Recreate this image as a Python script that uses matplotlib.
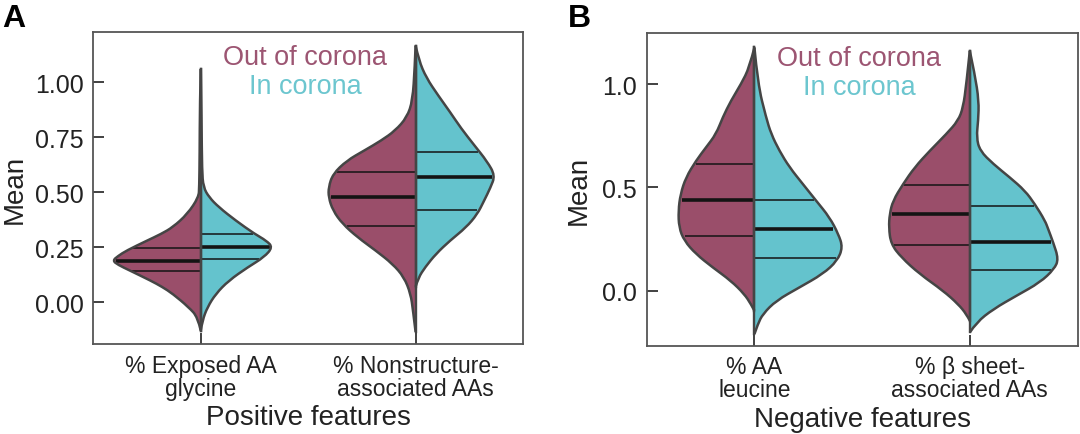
import matplotlib
matplotlib.use('Agg')
import matplotlib.pyplot as plt
from matplotlib.path import Path
from matplotlib.patches import PathPatch
import numpy as np

plt.rcParams['font.family'] = ['Liberation Sans', 'DejaVu Sans']

# violin outlines: (value, half width) from bottom to top
glycine_out = [(-0.129, 0.0), (-0.068, 0.014), (-0.023, 0.056), (0.038, 0.13), (0.07, 0.18),
               (0.098, 0.233), (0.144, 0.33), (0.17, 0.385), (0.189, 0.41), (0.21, 0.385),
               (0.235, 0.345), (0.28, 0.25), (0.31, 0.185), (0.341, 0.13), (0.401, 0.062),
               (0.477, 0.010), (0.523, 0.007), (0.674, 0.005), (0.9, 0.004), (1.06, 0.0)]
glycine_in = [(-0.129, 0.0), (-0.083, 0.008), (-0.023, 0.031), (0.038, 0.07), (0.098, 0.13),
              (0.159, 0.219), (0.205, 0.295), (0.25, 0.335), (0.28, 0.305), (0.311, 0.25),
              (0.371, 0.163), (0.432, 0.084), (0.477, 0.039), (0.523, 0.012), (0.6, 0.006),
              (0.8, 0.004), (1.06, 0.0)]
nonstruct_out = [(-0.136, 0.0), (-0.038, 0.012), (0.038, 0.023), (0.114, 0.054), (0.174, 0.107),
                 (0.235, 0.186), (0.295, 0.27), (0.356, 0.34), (0.417, 0.385), (0.477, 0.405),
                 (0.523, 0.405), (0.583, 0.385), (0.644, 0.32), (0.689, 0.24), (0.735, 0.16),
                 (0.78, 0.095), (0.841, 0.04), (0.917, 0.014), (1.068, 0.004), (1.167, 0.0)]
nonstruct_in = [(0.07, 0.0), (0.11, 0.012), (0.16, 0.045), (0.22, 0.095), (0.28, 0.16),
                (0.34, 0.235), (0.40, 0.287), (0.46, 0.318), (0.52, 0.348), (0.576, 0.37),
                (0.64, 0.333), (0.715, 0.272), (0.79, 0.212), (0.865, 0.16), (0.94, 0.105),
                (1.02, 0.05), (1.1, 0.015), (1.167, 0.0)]
leucine_out = [(-0.097, 0.0), (-0.065, 0.016), (-0.016, 0.047), (0.048, 0.109), (0.113, 0.194),
               (0.177, 0.271), (0.242, 0.326), (0.306, 0.35), (0.387, 0.353), (0.468, 0.343),
               (0.548, 0.318), (0.629, 0.271), (0.693, 0.225), (0.758, 0.178), (0.839, 0.147),
               (0.919, 0.109), (1.0, 0.062), (1.081, 0.023), (1.177, 0.0)]
leucine_in = [(-0.21, 0.0), (-0.161, 0.016), (-0.113, 0.039), (-0.048, 0.101), (0.016, 0.209),
              (0.081, 0.318), (0.145, 0.385), (0.21, 0.41), (0.274, 0.39), (0.355, 0.349),
              (0.435, 0.287), (0.516, 0.225), (0.597, 0.163), (0.677, 0.116), (0.758, 0.078),
              (0.839, 0.054), (1.0, 0.016), (1.177, 0.0)]
sheet_out = [(-0.145, 0.0), (-0.113, 0.016), (-0.065, 0.054), (0.0, 0.124), (0.081, 0.233),
             (0.161, 0.318), (0.226, 0.366), (0.306, 0.376), (0.371, 0.372), (0.435, 0.357),
             (0.516, 0.31), (0.597, 0.256), (0.677, 0.186), (0.758, 0.109), (0.823, 0.054),
             (0.887, 0.031), (1.0, 0.016), (1.161, 0.0)]
sheet_in = [(-0.202, 0.0), (-0.153, 0.031), (-0.089, 0.109), (-0.024, 0.217), (0.04, 0.326),
            (0.105, 0.392), (0.153, 0.412), (0.234, 0.387), (0.298, 0.364), (0.339, 0.349),
            (0.419, 0.302), (0.484, 0.256), (0.548, 0.186), (0.613, 0.109), (0.677, 0.047),
            (0.742, 0.031), (0.823, 0.039), (0.919, 0.042), (1.048, 0.023), (1.161, 0.0)]

# quartiles (25%, median, 75%)
glycine_q_out = [0.144, 0.186, 0.245]
glycine_q_in = [0.197, 0.253, 0.311]
nonstruct_q_out = [0.348, 0.477, 0.591]
nonstruct_q_in = [0.417, 0.571, 0.682]
leucine_q_out = [0.263, 0.437, 0.613]
leucine_q_in = [0.158, 0.298, 0.44]
sheet_q_out = [0.223, 0.371, 0.511]
sheet_q_in = [0.1, 0.234, 0.411]

pos_labels = ['% Exposed AA\nglycine', '% Nonstructure-\nassociated AAs']
neg_labels = ['% AA\nleucine', '% \u03b2 sheet-\nassociated AAs']
pos_yticks = [0.0, 0.25, 0.5, 0.75, 1.0]
neg_yticks = [0.0, 0.5, 1.0]

OUT_COLOR = '#9a4e6a'
IN_COLOR = '#64c3cd'
OUT_TEXT = '#9c5572'
IN_TEXT = '#6cc6cf'
EDGE = '#454545'


def smooth_path(x, y):
    # quadratic b-spline through the read points (points act as control points)
    verts = [(x[0], y[0])]
    codes = [Path.MOVETO]
    for i in range(1, len(x) - 1):
        mx, my = (x[i] + x[i + 1]) / 2, (y[i] + y[i + 1]) / 2
        if i == len(x) - 2:
            mx, my = x[-1], y[-1]
        verts += [(x[i], y[i]), (mx, my)]
        codes += [Path.CURVE3, Path.CURVE3]
    return verts, codes


def draw_half(ax, pos, profile, quartiles, side, color):
    y = np.array([p[0] for p in profile])
    w = np.array([p[1] for p in profile])
    sign = -1 if side == 'left' else 1
    x = pos + sign * w
    verts, codes = smooth_path(x, y)
    fill = PathPatch(Path(verts + [(pos, y[0])], codes + [Path.LINETO]),
                     facecolor=color, edgecolor='none', zorder=2)
    ax.add_patch(fill)
    for k, q in enumerate(quartiles):
        half = np.interp(q, y, w) * 0.97
        ax.plot([pos, pos + sign * half], [q, q], color='#141414',
                lw=2.6 if k == 1 else 1.1, zorder=3, solid_capstyle='butt')
    ax.add_patch(PathPatch(Path(verts, codes), facecolor='none', edgecolor=EDGE,
                           lw=1.8, zorder=4, joinstyle='round'))
    ax.plot([pos, pos], [y[0], y[-1]], color=EDGE, lw=1.7, zorder=4)


def style_axes(ax, labels, yticks, fmt, xlabel, ylab_x):
    ax.set_xlim(-0.5, 1.5)
    ax.set_xticks([0, 1])
    ax.set_xticklabels(labels, fontsize=16.5, color='#222222')
    for t in ax.get_xticklabels():
        t.set_linespacing(1.0)
    ax.set_yticks(yticks)
    ax.set_yticklabels([fmt % v for v in yticks], fontsize=18, color='#222222')
    ax.tick_params(direction='in', length=8, width=1.3, color='#333333', pad=7)
    for sp in ax.spines.values():
        sp.set_color('#555555')
        sp.set_linewidth(1.3)
    ax.set_ylabel('Mean', fontsize=20, color='#222222')
    ax.yaxis.set_label_coords(ylab_x, 0.5)
    ax.set_xlabel(xlabel, fontsize=20, labelpad=3, color='#222222')
    ax.text(0.493, 0.92, 'Out of corona', transform=ax.transAxes, ha='center', va='center',
            fontsize=19.5, color=OUT_TEXT)
    ax.text(0.493, 0.827, 'In corona', transform=ax.transAxes, ha='center', va='center',
            fontsize=19.5, color=IN_TEXT)


fig = plt.figure(figsize=(10.8, 4.35), dpi=100)
ax1 = fig.add_axes([0.0864, 0.2069, 0.3979, 0.7165])
ax2 = fig.add_axes([0.5988, 0.2030, 0.3989, 0.7189])

draw_half(ax1, 0, glycine_out, glycine_q_out, 'left', OUT_COLOR)
draw_half(ax1, 0, glycine_in, glycine_q_in, 'right', IN_COLOR)
draw_half(ax1, 1, nonstruct_out, nonstruct_q_out, 'left', OUT_COLOR)
draw_half(ax1, 1, nonstruct_in, nonstruct_q_in, 'right', IN_COLOR)
ax1.set_ylim(-0.19, 1.227)
style_axes(ax1, pos_labels, pos_yticks, '%.2f', 'Positive features', -0.152)

draw_half(ax2, 0, leucine_out, leucine_q_out, 'left', OUT_COLOR)
draw_half(ax2, 0, leucine_in, leucine_q_in, 'right', IN_COLOR)
draw_half(ax2, 1, sheet_out, sheet_q_out, 'left', OUT_COLOR)
draw_half(ax2, 1, sheet_in, sheet_q_in, 'right', IN_COLOR)
ax2.set_ylim(-0.266, 1.247)
style_axes(ax2, neg_labels, neg_yticks, '%.1f', 'Negative features', -0.128)

fig.text(0.002, 0.99, 'A', fontsize=23, fontweight='bold', va='top', ha='left')
fig.text(0.526, 0.99, 'B', fontsize=23, fontweight='bold', va='top', ha='left')

fig.savefig('out.png', dpi=100)
